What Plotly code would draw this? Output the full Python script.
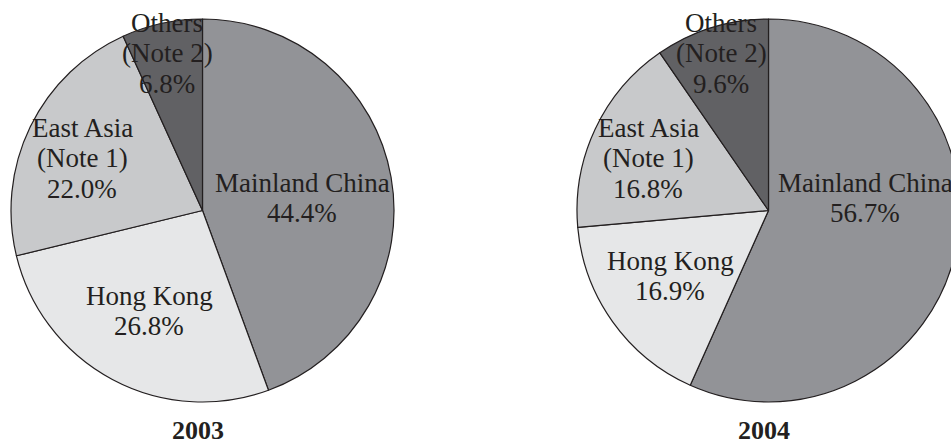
import plotly.graph_objects as go

# ---------------- data ----------------
categories = ["Mainland China", "Hong Kong", "East Asia", "Others"]
label_lines = [["Mainland China"], ["Hong Kong"], ["East Asia", "(Note 1)"], ["Others", "(Note 2)"]]
values_2003 = [44.4, 26.8, 22.0, 6.8]
values_2004 = [56.7, 16.9, 16.8, 9.6]
years = ["2003", "2004"]

# ---------------- style ----------------
W, H = 962, 446
colors = ["#929397", "#e6e7e8", "#c8c9cb", "#616164"]
line_color = "#231f20"
text_color = "#231f20"
FONT = "Liberation Serif, Times New Roman, serif"
FS = 27
TFS = 26
LINE_GAP = 30.5
R = 191.5
centers = [(202.5, 210.5), (768.5, 210.5)]
# label block positions relative to pie centre: (dx of block centre, dy of first baseline)
label_offsets = [
    [(99.5, -18.5), (-53.5, 94.5), (-120.5, -73.5), (-35.5, -178.5)],
    [(96.5, -18.5), (-98.5, 59.5), (-120.5, -73.5), (-47.5, -178.5)],
]
title_dx = -4.5
title_bottom = 445.5

fig = go.Figure()
annotations = []

def px(x):
    return x / W

def py(y):
    return 1 - y / H

for k, vals in enumerate([values_2003, values_2004]):
    cx, cy = centers[k]
    fig.add_trace(go.Pie(
        labels=categories,
        values=vals,
        sort=False,
        direction="clockwise",
        rotation=0,
        marker=dict(colors=colors, line=dict(color=line_color, width=1.2)),
        textinfo="none",
        hoverinfo="label+percent",
        showlegend=False,
        domain=dict(x=[px(cx - R), px(cx + R)], y=[py(cy + R), py(cy - R)]),
    ))
    for i, cat in enumerate(categories):
        lines = label_lines[i] + [f"{vals[i]:.1f}%"]
        dx, dy = label_offsets[k][i]
        for j, t in enumerate(lines):
            base = cy + dy + j * LINE_GAP
            annotations.append(dict(
                x=px(cx + dx), y=py(base - 0.3375 * FS),
                xref="paper", yref="paper", text=t, showarrow=False,
                xanchor="center", yanchor="middle",
                font=dict(family=FONT, size=FS, color=text_color),
            ))
    annotations.append(dict(
        x=px(cx + title_dx), y=py(title_bottom),
        xref="paper", yref="paper", text=f"<b>{years[k]}</b>", showarrow=False,
        xanchor="center", yanchor="bottom", borderpad=0,
        font=dict(family=FONT, size=TFS, color=text_color),
    ))

fig.update_layout(
    width=W, height=H,
    margin=dict(l=0, r=0, t=0, b=0),
    paper_bgcolor="white", plot_bgcolor="white",
    annotations=annotations,
)

fig.write_html(
    "out.html",
    post_script="document.documentElement.style.overflow='hidden';"
                "document.body.style.overflow='hidden';document.body.style.margin='0';",
)
